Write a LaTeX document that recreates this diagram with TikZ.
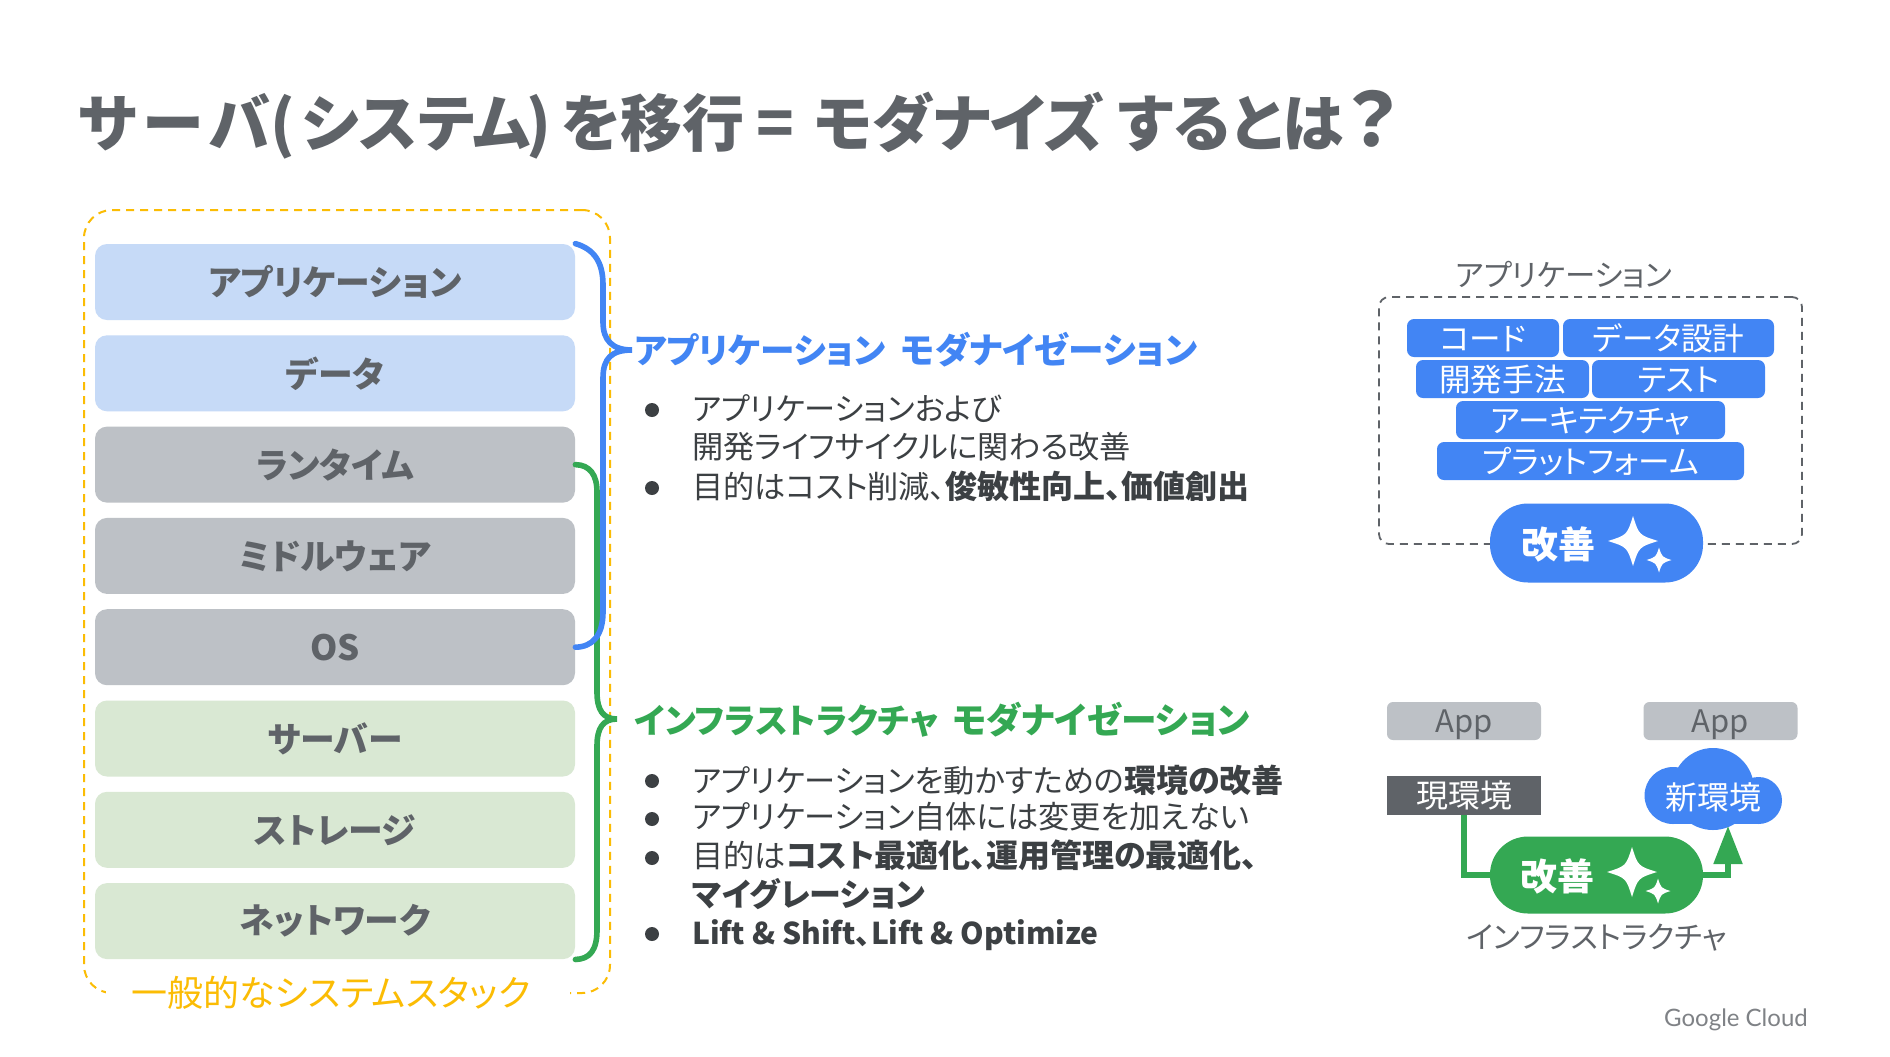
\documentclass[tikz,border=0pt]{standalone}
\usepackage{fontspec}
\setmainfont[RawFeature=+palt]{Noto Sans CJK JP}
\newfontfamily\logofont{Lato}
\usetikzlibrary{arrows.meta}
\definecolor{gblue}{HTML}{4285F4}
\definecolor{ggreen}{HTML}{34A853}
\definecolor{gyellow}{HTML}{FBBC04}
\definecolor{ggrey}{HTML}{5F6368}
\definecolor{gbody}{HTML}{3C4043}
\definecolor{lblue}{HTML}{C6DAF7}
\definecolor{lgrey}{HTML}{BDC1C6}
\definecolor{lgreen}{HTML}{D9E8D3}
\newcommand{\fsize}[1]{\fontsize{#1}{#1}\selectfont}
\newcommand{\heavy}[1]{{\fsize{16}\bfseries #1}}
\newcommand{\sparkle}[3]{\fill[white] (#1,#2-#3) .. controls (#1+0.24*#3,#2-0.24*#3) .. (#1+#3,#2) .. controls (#1+0.24*#3,#2+0.24*#3) .. (#1,#2+#3) .. controls (#1-0.24*#3,#2+0.24*#3) .. (#1-#3,#2) .. controls (#1-0.24*#3,#2-0.24*#3) .. (#1,#2-#3) -- cycle;}
\begin{document}
\begin{tikzpicture}[x=0.5pt, y=-0.5pt, >=stealth, node distance=45.65pt]
	\tikzstyle{layer} = [rounded corners=6pt, minimum width=240pt, minimum height=38pt,
	inner sep=0pt, text=ggrey, font=\fsize{17.4}\bfseries]
	\tikzstyle{chip} = [fill=gblue, rounded corners=3.5pt, minimum height=19pt, inner sep=0pt,
	text height=13.5pt, text depth=1.5pt, text=white, font=\fsize{15.8}]
	\tikzstyle{appbox} = [fill=lgrey, rounded corners=3pt, minimum width=77pt, minimum height=19pt,
	inner sep=0pt, text height=14.3pt, text depth=3pt, text=ggrey, font=\fsize{15.5}]
	\tikzstyle{pill} = [rounded corners=19pt, minimum width=106.5pt, minimum height=38.5pt, inner sep=0pt]
	\tikzstyle{kaizen} = [inner sep=0pt, text=white, font=\fsize{18.5}\bfseries]
	\tikzstyle{bodyline} = [anchor=west, inner sep=0pt, text=gbody, font=\fsize{15.6}]
	\tikzstyle{dot} = [circle, fill=gbody, minimum size=7pt, inner sep=0pt]
	\tikzstyle{bracket} = [line width=2.8pt, line cap=round]

	\path[fill=white] (0,0) rectangle (1890,1056);
	\useasboundingbox (0,0) rectangle (1890,1056);

	% title
	\node[anchor=west, inner sep=0pt, text=ggrey, font=\fsize{31}\bfseries] (title) at (78,125)
		{サ\hspace{3pt}ー\hspace{3pt}バ(\hspace{3pt}システム\hspace{-1.8pt})\hspace{4.8pt}を移行\hspace{-1pt} = \hspace{2.5pt}モダナイズ するとは\hspace{2pt}{\fsize{37}？}};

	% system stack
	\node[draw=gyellow, line width=1pt, dash pattern=on 4pt off 3pt, rounded corners=14pt,
		minimum width=263pt, minimum height=391.5pt, inner sep=0pt] (stack) at (347,601.5) {};
	\path
		node[layer, fill=lblue] (app) at (335,282) {アプリケーション}
		node[layer, fill=lblue, below of=app] (data) {データ}
		node[layer, fill=lgrey, below of=data] (runtime) {ランタイム}
		node[layer, fill=lgrey, below of=runtime] (middleware) {ミドルウェア}
		node[layer, fill=lgrey, below of=middleware] (os) {OS}
		node[layer, fill=lgreen, below of=os] (server) {サーバー}
		node[layer, fill=lgreen, below of=server] (storage) {ストレージ}
		node[layer, fill=lgreen, below of=storage] (network) {ネットワーク}
	;
	\node[fill=white, inner xsep=13pt, inner ysep=1pt, text=gyellow, font=\fsize{18}] (stacklabel) at (338,993)
		{一般的なシステムスタック\kern7pt};

	% brackets
	\coordinate (bluehead) at (632,350);
	\coordinate (greenhead) at (617,719);
	\draw[bracket, ggreen] (runtime.east) .. controls (590,465) and (597,475) .. (597,492) -- (597,692)
		.. controls (597,710) and (603,719) .. (greenhead) .. controls (603,719) and (597,728) .. (597,746)
		-- (597,930) .. controls (597,950) and (590,959) .. (network.south east);
	\draw[bracket, gblue] (app.north east) .. controls (594,249) and (603,262) .. (603,285) -- (603,322)
		.. controls (603,340) and (612,350) .. (bluehead) .. controls (612,350) and (603,358) .. (603,378)
		-- (603,612) .. controls (603,636) and (592,647) .. (os.east);

	% modernization text
	\path
		node[anchor=west, inner sep=0pt, text=gblue, font=\bfseries] (apphead) at (634,350)
			{{\fsize{17.3}アプリケーション\hspace{3.6pt} }{\fsize{17.8}モダナイゼーション}}
		node[bodyline] (a1) at (692,409) {アプリケーションおよび}
		node[bodyline] (a2) at (692,447) {開発ライフサイクルに関わる改善}
		node[bodyline] (a3) at (692,486) {目的はコスト削減、\heavy{俊敏性向上、価値創出}}
		node[anchor=west, inner sep=0pt, text=ggreen, font=\bfseries] (infrahead) at (634,720)
			{{\fsize{17.05}インフラストラクチャ\hspace{3.2pt} }{\fsize{17.85}モダナイゼーション}}
		node[bodyline] (i1) at (692,780) {アプリケーションを動かすための\heavy{環境の改善}}
		node[bodyline] (i2) at (692,817) {アプリケーション自体には変更を加えない}
		node[bodyline] (i3) at (692,855) {目的は\heavy{コスト最適化、運用管理の最適化、}}
		node[bodyline] (i4) at (692,894) {\heavy{マイグレーション}}
		node[bodyline, font=\fsize{15}\bfseries] (i5) at (692,935) {Lift \& Shift、Lift \& Optimize}
		node[dot] (d1) at (652,410) {}
		node[dot] (d2) at (652,488) {}
		node[dot] (d3) at (652,781) {}
		node[dot] (d4) at (652,819) {}
		node[dot] (d5) at (652,858) {}
		node[dot] (d6) at (652,934) {}
	;

	% application side
	\node[draw=ggrey, line width=0.9pt, dash pattern=on 4pt off 3pt, rounded corners=5pt,
		minimum width=211.5pt, minimum height=123.5pt, inner sep=0pt] (appframe) at (1590.5,420.5) {};
	\node[inner sep=0pt, text=ggrey, font=\fsize{15.2}] (applabel) at (1564,275) {アプリケーション};
	\path
		node[chip, minimum width=76pt] (code) at (1483,338) {コード}
		node[chip, minimum width=105.5pt] (design) at (1668.5,338) {データ設計}
		node[chip, minimum width=86.5pt] (method) at (1502.5,379) {開発手法}
		node[chip, minimum width=86.5pt] (test) at (1678.5,379) {テスト}
		node[chip, minimum width=134.5pt] (arch) at (1590.5,420) {アーキテクチャ}
		node[chip, minimum width=153.5pt] (platform) at (1590.5,461) {プラットフォーム}
		node[pill, fill=gblue, minimum height=39.5pt] (pillb) at (1596.5,543) {}
		node[kaizen] (kaizenb) at (1558,544) {改善}
	;
	\sparkle{1633}{541}{25}
	\sparkle{1659}{560}{12.5}

	% infrastructure side
	\path
		node[appbox] (appold) at (1464,721) {App}
		node[appbox] (appnew) at (1720.5,721) {App}
		node[fill=ggrey, minimum width=77pt, minimum height=19.5pt, inner sep=0pt, text=white, font=\fsize{16}]
			(oldenv) at (1464,795.5) {現環境}
	;
	\fill[gblue] (1673,795.5) circle[radius=28.5];
	\fill[gblue] (1758.5,800.5) circle[radius=23.5];
	\fill[gblue] (1713,789) circle[radius=41];
	\fill[gblue] (1673,790) rectangle (1758.5,824);
	\node[inner sep=0pt, text=white, font=\fsize{16}] (newenv) at (1713,797) {新環境};
	\coordinate (cloudin) at (1728,826);
	\node[pill, fill=ggreen] (pillg) at (1596.5,875) {};
	\draw[ggreen, line width=2.6pt] (oldenv.south) |- (pillg.west);
	\draw[-{Triangle[length=19pt,width=14pt]}, ggreen, line width=2.6pt] (pillg.east) -| (cloudin);
	\node[kaizen] (kaizeng) at (1557,876) {改善};
	\sparkle{1632}{872}{25}
	\sparkle{1658}{891}{12.5}
	\node[inner sep=0pt, text=ggrey, font=\fsize{15.2}] (infralabel) at (1597,938) {インフラストラクチャ};

	% logo
	\node[inner sep=0pt, text=ggrey!80, font=\fsize{12}\logofont] (logo) at (1736,1020) {Google Cloud};
\end{tikzpicture}
\end{document}
